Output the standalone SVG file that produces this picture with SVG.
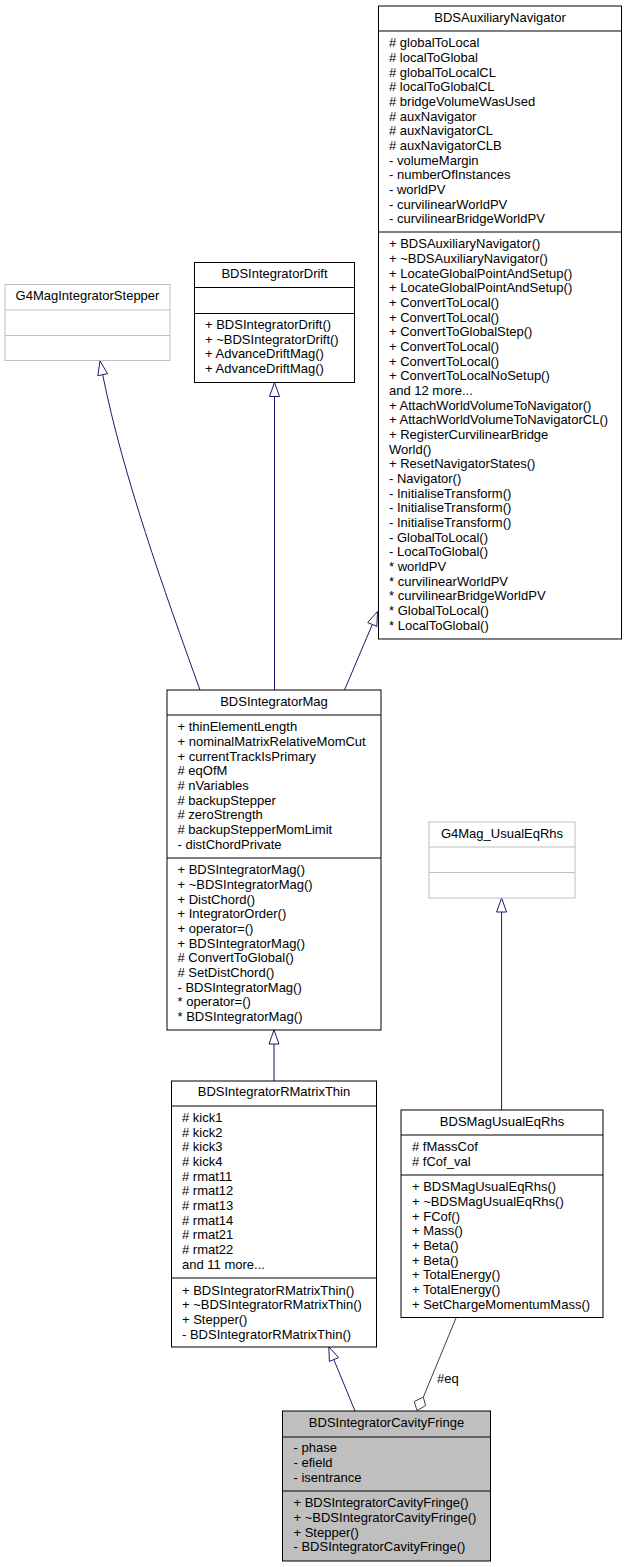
<svg xmlns="http://www.w3.org/2000/svg" width="625" height="1567" viewBox="0 0 625 1567">
<style>
text{font-family:"Liberation Sans",Arial,Helvetica,sans-serif;font-size:13px;fill:#000}
.t{text-anchor:middle}
.box{fill:#fff;stroke:#000;stroke-width:1}
.gbox{fill:#fff;stroke:#bfbfbf;stroke-width:1}
.cur{fill:#bfbfbf;stroke:#000;stroke-width:1}
.ln{stroke:#000;stroke-width:1}
.gln{stroke:#bfbfbf;stroke-width:1}
.inh{fill:none;stroke:#191970;stroke-width:1}
.inhh{fill:#fff;stroke:#191970;stroke-width:1}
.agg{fill:none;stroke:#404040;stroke-width:1}
.aggh{fill:#fff;stroke:#404040;stroke-width:1}
</style>
<rect width="625" height="1567" fill="#fff"/>
<g id="connectors">
<path class="inh" d="M200,690 C164,590 122.7,474.7 102.7,374.7"/>
<polygon class="inhh" points="100,361 107.6,373.7 97.8,375.7"/>
<path class="inh" d="M274.5,396.5 L274.5,690"/>
<polygon class="inhh" points="274.5,382.5 279.5,396.5 269.5,396.5"/>
<path class="inh" d="M344.5,690 L372.3,624.5"/>
<polygon class="inhh" points="377.5,611.5 376.9,626.4 367.7,622.5"/>
<path class="inh" d="M274,1044 L274,1081"/>
<polygon class="inhh" points="274,1030 279,1044 269,1044"/>
<path class="inh" d="M501.6,912 L501.6,1110"/>
<polygon class="inhh" points="501.6,898 506.6,912 496.6,912"/>
<path class="inh" d="M355,1411 L334,1360"/>
<polygon class="inhh" points="328.8,1346.8 338.6,1357.6 329.4,1361.4"/>
<path class="agg" d="M456,1318 L423.3,1397.2"/>
<polygon class="aggh" points="417,1410.5 414.2,1401.5 423.3,1397.2 425.6,1405.7"/>
<text x="437" y="1383">#eq</text>
</g>
<g id="BDSAuxiliaryNavigator">
<rect class="box" x="378.5" y="6" width="243" height="633"/>
<line class="ln" x1="378.5" y1="31" x2="621.5" y2="31"/>
<line class="ln" x1="378.5" y1="232" x2="621.5" y2="232"/>
<text class="t" x="500" y="22">BDSAuxiliaryNavigator</text>
<text x="389" y="47.3"><tspan x="389"># globalToLocal</tspan><tspan x="389" dy="14.67"># localToGlobal</tspan><tspan x="389" dy="14.67"># globalToLocalCL</tspan><tspan x="389" dy="14.67"># localToGlobalCL</tspan><tspan x="389" dy="14.67"># bridgeVolumeWasUsed</tspan><tspan x="389" dy="14.67"># auxNavigator</tspan><tspan x="389" dy="14.67"># auxNavigatorCL</tspan><tspan x="389" dy="14.67"># auxNavigatorCLB</tspan><tspan x="389" dy="14.67">- volumeMargin</tspan><tspan x="389" dy="14.67">- numberOfInstances</tspan><tspan x="389" dy="14.67">- worldPV</tspan><tspan x="389" dy="14.67">- curvilinearWorldPV</tspan><tspan x="389" dy="14.67">- curvilinearBridgeWorldPV</tspan></text>
<text x="389" y="248.3"><tspan x="389">+ BDSAuxiliaryNavigator()</tspan><tspan x="389" dy="14.67">+ ~BDSAuxiliaryNavigator()</tspan><tspan x="389" dy="14.67">+ LocateGlobalPointAndSetup()</tspan><tspan x="389" dy="14.67">+ LocateGlobalPointAndSetup()</tspan><tspan x="389" dy="14.67">+ ConvertToLocal()</tspan><tspan x="389" dy="14.67">+ ConvertToLocal()</tspan><tspan x="389" dy="14.67">+ ConvertToGlobalStep()</tspan><tspan x="389" dy="14.67">+ ConvertToLocal()</tspan><tspan x="389" dy="14.67">+ ConvertToLocal()</tspan><tspan x="389" dy="14.67">+ ConvertToLocalNoSetup()</tspan><tspan x="389" dy="14.67">and 12 more...</tspan><tspan x="389" dy="14.67">+ AttachWorldVolumeToNavigator()</tspan><tspan x="389" dy="14.67">+ AttachWorldVolumeToNavigatorCL()</tspan><tspan x="389" dy="14.67">+ RegisterCurvilinearBridge</tspan><tspan x="389" dy="14.67">World()</tspan><tspan x="389" dy="14.67">+ ResetNavigatorStates()</tspan><tspan x="389" dy="14.67">- Navigator()</tspan><tspan x="389" dy="14.67">- InitialiseTransform()</tspan><tspan x="389" dy="14.67">- InitialiseTransform()</tspan><tspan x="389" dy="14.67">- InitialiseTransform()</tspan><tspan x="389" dy="14.67">- GlobalToLocal()</tspan><tspan x="389" dy="14.67">- LocalToGlobal()</tspan><tspan x="389" dy="14.67">* worldPV</tspan><tspan x="389" dy="14.67">* curvilinearWorldPV</tspan><tspan x="389" dy="14.67">* curvilinearBridgeWorldPV</tspan><tspan x="389" dy="14.67">* GlobalToLocal()</tspan><tspan x="389" dy="14.67">* LocalToGlobal()</tspan></text>
</g>
<g id="G4MagIntegratorStepper">
<rect class="gbox" x="5" y="284.5" width="165" height="76"/>
<line class="gln" x1="5" y1="310" x2="170" y2="310"/>
<line class="gln" x1="5" y1="335.5" x2="170" y2="335.5"/>
<text class="t" x="87.5" y="300.3">G4MagIntegratorStepper</text>
</g>
<g id="BDSIntegratorDrift">
<rect class="box" x="194.5" y="262.5" width="160" height="120"/>
<line class="ln" x1="194.5" y1="287.5" x2="354.5" y2="287.5"/>
<line class="ln" x1="194.5" y1="313.5" x2="354.5" y2="313.5"/>
<text class="t" x="274.5" y="278">BDSIntegratorDrift</text>
<text x="205" y="328.9"><tspan x="205">+ BDSIntegratorDrift()</tspan><tspan x="205" dy="14.67">+ ~BDSIntegratorDrift()</tspan><tspan x="205" dy="14.67">+ AdvanceDriftMag()</tspan><tspan x="205" dy="14.67">+ AdvanceDriftMag()</tspan></text>
</g>
<g id="BDSIntegratorMag">
<rect class="box" x="167" y="690" width="214" height="340"/>
<line class="ln" x1="167" y1="715" x2="381" y2="715"/>
<line class="ln" x1="167" y1="858" x2="381" y2="858"/>
<text class="t" x="274" y="706.3">BDSIntegratorMag</text>
<text x="177.5" y="731.3"><tspan x="177.5">+ thinElementLength</tspan><tspan x="177.5" dy="14.67">+ nominalMatrixRelativeMomCut</tspan><tspan x="177.5" dy="14.67">+ currentTrackIsPrimary</tspan><tspan x="177.5" dy="14.67"># eqOfM</tspan><tspan x="177.5" dy="14.67"># nVariables</tspan><tspan x="177.5" dy="14.67"># backupStepper</tspan><tspan x="177.5" dy="14.67"># zeroStrength</tspan><tspan x="177.5" dy="14.67"># backupStepperMomLimit</tspan><tspan x="177.5" dy="14.67">- distChordPrivate</tspan></text>
<text x="177.5" y="874.3"><tspan x="177.5">+ BDSIntegratorMag()</tspan><tspan x="177.5" dy="14.67">+ ~BDSIntegratorMag()</tspan><tspan x="177.5" dy="14.67">+ DistChord()</tspan><tspan x="177.5" dy="14.67">+ IntegratorOrder()</tspan><tspan x="177.5" dy="14.67">+ operator=()</tspan><tspan x="177.5" dy="14.67">+ BDSIntegratorMag()</tspan><tspan x="177.5" dy="14.67"># ConvertToGlobal()</tspan><tspan x="177.5" dy="14.67"># SetDistChord()</tspan><tspan x="177.5" dy="14.67">- BDSIntegratorMag()</tspan><tspan x="177.5" dy="14.67">* operator=()</tspan><tspan x="177.5" dy="14.67">* BDSIntegratorMag()</tspan></text>
</g>
<g id="G4Mag_UsualEqRhs">
<rect class="gbox" x="429" y="822" width="146" height="76"/>
<line class="gln" x1="429" y1="847" x2="575" y2="847"/>
<line class="gln" x1="429" y1="872.5" x2="575" y2="872.5"/>
<text class="t" x="502" y="838.3">G4Mag_UsualEqRhs</text>
</g>
<g id="BDSIntegratorRMatrixThin">
<rect class="box" x="171.5" y="1081" width="205" height="266"/>
<line class="ln" x1="171.5" y1="1106" x2="376.5" y2="1106"/>
<line class="ln" x1="171.5" y1="1278" x2="376.5" y2="1278"/>
<text class="t" x="274" y="1096.3">BDSIntegratorRMatrixThin</text>
<text x="182" y="1121.9"><tspan x="182"># kick1</tspan><tspan x="182" dy="14.67"># kick2</tspan><tspan x="182" dy="14.67"># kick3</tspan><tspan x="182" dy="14.67"># kick4</tspan><tspan x="182" dy="14.67"># rmat11</tspan><tspan x="182" dy="14.67"># rmat12</tspan><tspan x="182" dy="14.67"># rmat13</tspan><tspan x="182" dy="14.67"># rmat14</tspan><tspan x="182" dy="14.67"># rmat21</tspan><tspan x="182" dy="14.67"># rmat22</tspan><tspan x="182" dy="14.67">and 11 more...</tspan></text>
<text x="182" y="1294.6"><tspan x="182">+ BDSIntegratorRMatrixThin()</tspan><tspan x="182" dy="14.67">+ ~BDSIntegratorRMatrixThin()</tspan><tspan x="182" dy="14.67">+ Stepper()</tspan><tspan x="182" dy="14.67">- BDSIntegratorRMatrixThin()</tspan></text>
</g>
<g id="BDSMagUsualEqRhs">
<rect class="box" x="401" y="1110" width="202" height="207.5"/>
<line class="ln" x1="401" y1="1135" x2="603" y2="1135"/>
<line class="ln" x1="401" y1="1175" x2="603" y2="1175"/>
<text class="t" x="502" y="1126.3">BDSMagUsualEqRhs</text>
<text x="412" y="1151.3"><tspan x="412"># fMassCof</tspan><tspan x="412" dy="14.67"># fCof_val</tspan></text>
<text x="412" y="1191.3"><tspan x="412">+ BDSMagUsualEqRhs()</tspan><tspan x="412" dy="14.67">+ ~BDSMagUsualEqRhs()</tspan><tspan x="412" dy="14.67">+ FCof()</tspan><tspan x="412" dy="14.67">+ Mass()</tspan><tspan x="412" dy="14.67">+ Beta()</tspan><tspan x="412" dy="14.67">+ Beta()</tspan><tspan x="412" dy="14.67">+ TotalEnergy()</tspan><tspan x="412" dy="14.67">+ TotalEnergy()</tspan><tspan x="412" dy="14.67">+ SetChargeMomentumMass()</tspan></text>
</g>
<g id="BDSIntegratorCavityFringe">
<rect class="cur" x="282.5" y="1411" width="208" height="150"/>
<line class="ln" x1="282.5" y1="1437" x2="490.5" y2="1437"/>
<line class="ln" x1="282.5" y1="1491" x2="490.5" y2="1491"/>
<text class="t" x="386.5" y="1427">BDSIntegratorCavityFringe</text>
<text x="293.5" y="1452.3"><tspan x="293.5">- phase</tspan><tspan x="293.5" dy="14.67">- efield</tspan><tspan x="293.5" dy="14.67">- isentrance</tspan></text>
<text x="293.5" y="1507.3"><tspan x="293.5">+ BDSIntegratorCavityFringe()</tspan><tspan x="293.5" dy="14.67">+ ~BDSIntegratorCavityFringe()</tspan><tspan x="293.5" dy="14.67">+ Stepper()</tspan><tspan x="293.5" dy="14.67">- BDSIntegratorCavityFringe()</tspan></text>
</g>
</svg>
